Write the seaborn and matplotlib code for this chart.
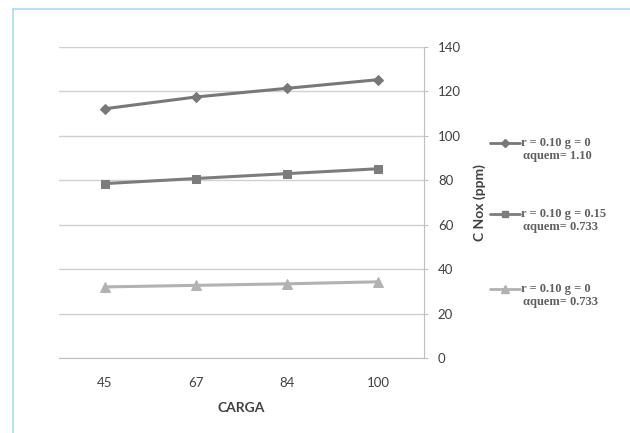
import matplotlib
matplotlib.use("Agg")
import matplotlib.pyplot as plt
from matplotlib.lines import Line2D
import seaborn as sns
import pandas as pd
import numpy as np

categories = ["45", "67", "84", "100"]
s1 = [112.2, 117.5, 121.4, 125.3]
s2 = [78.5, 80.8, 83.0, 85.2]
s3 = [32.0, 32.7, 33.4, 34.3]
labels = ["r = 0.10 g = 0", "r = 0.10 g = 0.15", "r = 0.10 g = 0"]
sublabels = ["αquem= 1.10", "αquem= 0.733", "αquem= 0.733"]
colors = ["#787878", "#7c7c7c", "#b2b2b2"]
markers = ["D", "s", "^"]
msizes = [5, 6, 7]

sns.set_style("white")
plt.rcParams['font.family'] = ['Lato', 'DejaVu Sans']

fig = plt.figure(figsize=(6.3, 4.33), dpi=100)
ax = fig.add_axes([59/630, 1-358/433, (424-59)/630, (358-47)/433])

rows = []
for k, vals in enumerate([s1, s2, s3]):
    for i, (c, v) in enumerate(zip(categories, vals)):
        rows.append({"idx": i, "cat": c, "val": v, "series": k})
df = pd.DataFrame(rows)

for k, (col, mk, ms) in enumerate(zip(colors, markers, msizes)):
    sub = df[df.series == k]
    sns.lineplot(data=sub, x="idx", y="val", ax=ax, color=col, lw=2.2,
                 marker=mk, markersize=ms, markeredgecolor=col, legend=False)

ax.set_xlim(-0.5, len(categories) - 0.5)
ax.set_ylim(0, 140)
ax.set_yticks(np.arange(0, 141, 20))
ax.yaxis.tick_right()
ax.yaxis.set_label_position("right")
ax.set_xticks(range(len(categories)))
ax.set_xticklabels(categories)
ax.set_xticks(np.arange(-0.5, len(categories), 1), minor=True)
ax.tick_params(axis="x", which="major", length=0, pad=14, labelsize=9.5, labelcolor="#404040")
ax.tick_params(axis="x", which="minor", length=3, color="#bfbfbf", direction="out")
ax.tick_params(axis="y", length=3, color="#bfbfbf", direction="out", pad=7,
               labelsize=9.5, labelcolor="#404040", right=True, left=False)
ax.grid(axis="y", color="#d0d0d0", lw=1)
ax.grid(axis="x", visible=False)
for side in ["top", "left"]:
    ax.spines[side].set_visible(False)
ax.spines["right"].set_color("#bfbfbf")
ax.spines["bottom"].set_color("#bfbfbf")
ax.set_xlabel("CARGA", fontsize=10, fontweight="bold", color="#404040", labelpad=9)
ax.set_ylabel("C Nox (ppm)", fontsize=10, fontweight="bold", color="#404040", labelpad=9)

# manual legend
leg_y = [143, 214, 289]
serif = {"family": ["Liberation Serif", "DejaVu Serif"], "size": 9, "weight": "bold"}
for y, lab, sl, col, mk, ms in zip(leg_y, labels, sublabels, colors, markers, msizes):
    yf = 1 - y/433
    fig.add_artist(Line2D([490/630, 520/630], [yf, yf], transform=fig.transFigure,
                          color=col, lw=2))
    fig.add_artist(Line2D([505/630], [yf], transform=fig.transFigure, color=col,
                          marker=mk, markersize=ms-1, lw=0))
    fig.text(521/630, yf, lab, va="center", ha="left", color="#606060", fontdict=serif)
    fig.text(523/630, 1 - (y+13)/433, sl, va="center", ha="left", color="#606060", fontdict=serif)

fig.add_artist(Line2D([13/630, 1], [1-9/433, 1-9/433], transform=fig.transFigure, color="#a8dcf0", lw=1.2))
fig.add_artist(Line2D([13/630, 13/630], [0, 1-9/433], transform=fig.transFigure, color="#a8dcf0", lw=1.2))

fig.savefig("out.png", dpi=100)
